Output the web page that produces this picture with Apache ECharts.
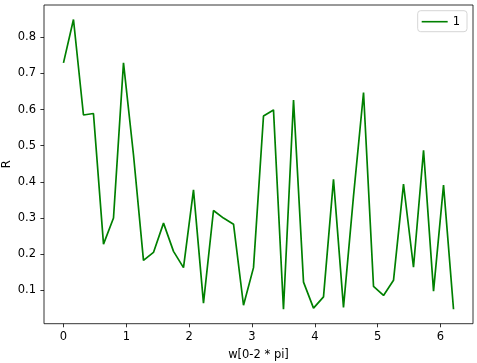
<!DOCTYPE html>
<html>
<head>
<meta charset="utf-8">
<script src="https://cdn.jsdelivr.net/npm/echarts@6/dist/echarts.min.js"></script>
<style>
html,body{margin:0;padding:0;background:#fff;}
#chart{width:477px;height:363px;}
</style>
</head>
<body>
<div id="chart"></div>
<script>
const xValues = [0, 0.159, 0.318, 0.477, 0.637, 0.796, 0.955, 1.114, 1.273, 1.432,
  1.592, 1.751, 1.910, 2.069, 2.228, 2.387, 2.546, 2.706, 2.865, 3.024,
  3.183, 3.342, 3.501, 3.661, 3.820, 3.979, 4.138, 4.297, 4.456, 4.615,
  4.775, 4.934, 5.093, 5.252, 5.411, 5.570, 5.730, 5.889, 6.048, 6.207];
const rValues = [0.729, 0.849, 0.585, 0.589, 0.228, 0.300, 0.729, 0.475, 0.183, 0.205,
  0.286, 0.208, 0.163, 0.378, 0.065, 0.321, 0.300, 0.283, 0.059, 0.163,
  0.582, 0.599, 0.048, 0.626, 0.123, 0.051, 0.082, 0.407, 0.053, 0.360,
  0.647, 0.111, 0.086, 0.128, 0.394, 0.164, 0.487, 0.098, 0.391, 0.048];
const xTicks = [0, 1, 2, 3, 4, 5, 6];
const yTicks = [0.1, 0.2, 0.3, 0.4, 0.5, 0.6, 0.7, 0.8];
const seriesName = '1';
const xName = 'w[0-2 * pi]';
const yName = 'R';

const FONT = 'DejaVu Sans';
const FS = 11.5;
const chart = echarts.init(document.getElementById('chart'), null, {renderer: 'canvas'});
chart.setOption({
  animation: false,
  backgroundColor: '#fff',
  grid: {left: 44, right: 4, top: 5, bottom: 39.3, show: true, borderColor: '#000', borderWidth: 0.8,
    backgroundColor: '#fff', containLabel: false, outerBoundsMode: 'none'},
  legend: {
    right: 10, top: 10.7,
    data: [{name: seriesName, icon: 'rect'}],
    itemWidth: 26, itemHeight: 1.6,
    itemGap: 8,
    padding: [5, 7, 4, 4],
    borderColor: '#d6d6d6', borderWidth: 1, borderRadius: 3,
    backgroundColor: '#fff',
    textStyle: {fontFamily: FONT, fontSize: FS, color: '#000'}
  },
  xAxis: {
    type: 'value', min: -0.310, max: 6.517,
    name: xName, nameLocation: 'middle', nameGap: 25.5, nameMoveOverlap: false,
    nameTextStyle: {fontFamily: FONT, fontSize: FS, color: '#000'},
    axisLine: {show: false, onZero: false},
    axisTick: {show: true, customValues: xTicks, length: 3.6, lineStyle: {color: '#000', width: 0.8}},
    axisLabel: {customValues: xTicks, margin: 7, fontFamily: FONT, fontSize: FS, color: '#000', formatter: v => String(v)},
    splitLine: {show: false}
  },
  yAxis: {
    type: 'value', min: 0.008, max: 0.889,
    name: yName, nameLocation: 'middle', nameGap: 31, nameRotate: 90, nameMoveOverlap: false,
    nameTextStyle: {fontFamily: FONT, fontSize: FS, color: '#000'},
    axisLine: {show: false, onZero: false},
    axisTick: {show: true, customValues: yTicks, length: 3.6, lineStyle: {color: '#000', width: 0.8}},
    axisLabel: {customValues: yTicks, margin: 8, fontFamily: FONT, fontSize: FS, color: '#000', formatter: v => v.toFixed(1)},
    splitLine: {show: false}
  },
  series: [{
    name: seriesName, type: 'line',
    data: xValues.map((x, i) => [x, rValues[i]]),
    showSymbol: false, symbol: 'none',
    lineStyle: {color: '#008000', width: 1.7},
    itemStyle: {color: '#008000'}
  }]
});
</script>
</body>
</html>
